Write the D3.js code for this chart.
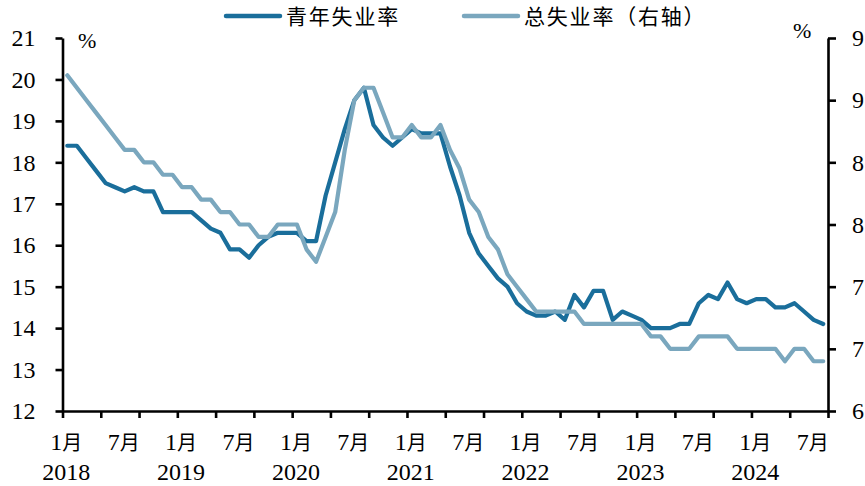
<!DOCTYPE html>
<html><head><meta charset="utf-8">
<script src="https://cdn.jsdelivr.net/npm/d3@7"></script>
<style>
html,body{margin:0;padding:0;background:#fff;}
svg{display:block;}
</style>
</head><body>
<svg id="chart" width="865" height="486"></svg>
<script>
// ---- data ----
const years = ["2018","2019","2020","2021","2022","2023","2024"];
const monthLabels = ["1月","7月"];
const leftTicks = [12,13,14,15,16,17,18,19,20,21];
const rightTicks = [6,6.5,7,7.5,8,8.5,9];
const rightTickLabels = ["6","7","7","8","8","9","9"];
const seriesNames = ["青年失业率","总失业率（右轴）"];
const youth = [
 18.4,18.4,18.1,17.8,17.5,17.4,17.3,17.4,17.3,17.3,16.8,16.8,
 16.8,16.8,16.6,16.4,16.3,15.9,15.9,15.7,16.0,16.2,16.3,16.3,
 16.3,16.1,16.1,17.2,18.0,18.8,19.5,19.8,18.9,18.6,18.4,18.6,
 18.8,18.7,18.7,18.7,17.9,17.2,16.3,15.8,15.5,15.2,15.0,14.6,
 14.4,14.3,14.3,14.4,14.2,14.8,14.5,14.9,14.9,14.2,14.4,14.3,
 14.2,14.0,14.0,14.0,14.1,14.1,14.6,14.8,14.7,15.1,14.7,14.6,
 14.7,14.7,14.5,14.5,14.6,14.4,14.2,14.1];
const total = [
 8.7,8.6,8.5,8.4,8.3,8.2,8.1,8.1,8.0,8.0,7.9,7.9,
 7.8,7.8,7.7,7.7,7.6,7.6,7.5,7.5,7.4,7.4,7.5,7.5,
 7.5,7.3,7.2,7.4,7.6,8.1,8.5,8.6,8.6,8.4,8.2,8.2,
 8.3,8.2,8.2,8.3,8.1,7.95,7.7,7.6,7.4,7.3,7.1,7.0,
 6.9,6.8,6.8,6.8,6.8,6.8,6.7,6.7,6.7,6.7,6.7,6.7,
 6.7,6.6,6.6,6.5,6.5,6.5,6.6,6.6,6.6,6.6,6.5,6.5,
 6.5,6.5,6.5,6.4,6.5,6.5,6.4,6.4];
// categories: months Jan 2018 .. Aug 2024
const categories = [];
years.forEach(y => { for (let m = 1; m <= 12; m++) categories.push(y + "-" + m); });
categories.length = youth.length;

// ---- layout ----
const colDark = "#1A6E9B", colLight = "#7AA7BE";
const L = 62.5, R = 828, T = 38, B = 411;
const svg = d3.select("#chart");
const numFont = "'Liberation Serif', 'Noto Sans CJK SC', serif";
const cjkFont = "'Noto Sans CJK SC', sans-serif";

const x = d3.scaleBand().domain(categories).range([L, R]).padding(0);
const xTick = d3.scaleLinear().domain([0, categories.length]).range([L, R]);
const yL = d3.scaleLinear().domain([12, 21]).range([B, T]);
const yR = d3.scaleLinear().domain([6, 9]).range([B, T]);

// lines
const lineL = d3.line().x((d, i) => x(categories[i]) + x.bandwidth() / 2).y(d => yL(d));
const lineR = d3.line().x((d, i) => x(categories[i]) + x.bandwidth() / 2).y(d => yR(d));
svg.append("path").datum(youth).attr("d", lineL).attr("fill", "none")
  .attr("stroke", colDark).attr("stroke-width", 4.2).attr("stroke-linejoin", "round").attr("stroke-linecap", "round");
svg.append("path").datum(total).attr("d", lineR).attr("fill", "none")
  .attr("stroke", colLight).attr("stroke-width", 4.2).attr("stroke-linejoin", "round").attr("stroke-linecap", "round");

// axes
function styleAxis(g) {
  g.selectAll(".domain").attr("stroke", "#000").attr("stroke-width", 2.6);
  g.selectAll(".tick line").attr("stroke", "#000").attr("stroke-width", 2.6);
}
const axL = svg.append("g").attr("transform", `translate(${L},0)`)
  .call(d3.axisLeft(yL).tickValues(leftTicks).tickSize(7).tickSizeOuter(0).tickPadding(20).tickFormat(d3.format("d")));
styleAxis(axL);
axL.selectAll(".tick text").attr("font-family", numFont).attr("font-size", 24).attr("fill", "#000");

const axR = svg.append("g").attr("transform", `translate(${R},0)`)
  .call(d3.axisRight(yR).tickValues(rightTicks).tickSize(8).tickSizeOuter(0).tickPadding(16)
    .tickFormat((d, i) => rightTickLabels[i]));
styleAxis(axR);
axR.selectAll(".tick text").attr("font-family", numFont).attr("font-size", 24).attr("fill", "#000");

const tickIdx = d3.range(0, categories.length + 1, 4);
const axB = svg.append("g").attr("transform", `translate(0,${B})`)
  .call(d3.axisBottom(xTick).tickValues(tickIdx).tickSize(7).tickSizeOuter(0).tickFormat(""));
styleAxis(axB);

// x labels
const labIdx = d3.range(0, categories.length, 6);
const lab = svg.append("g");
labIdx.forEach(i => {
  const cx = x(categories[i]) + x.bandwidth() / 2 - 1;
  const m = monthLabels[(i / 6) % 2];
  const t = lab.append("text").attr("x", cx).attr("y", 450).attr("text-anchor", "middle").attr("fill", "#000");
  t.append("tspan").attr("font-family", numFont).attr("font-size", 24).text(m.slice(0, -1));
  t.append("tspan").attr("font-family", cjkFont).attr("font-size", 20).text(m.slice(-1));
  if (i % 12 === 0) {
    lab.append("text").attr("x", cx).attr("y", 480).attr("text-anchor", "middle")
      .attr("font-family", numFont).attr("font-size", 24).attr("fill", "#000").text(years[i / 12]);
  }
});

// % units
svg.append("text").attr("x", 78).attr("y", 48).attr("font-family", numFont).attr("font-size", 22).text("%");
svg.append("text").attr("x", 793).attr("y", 38).attr("font-family", numFont).attr("font-size", 22).text("%");

// legend
const leg = [
  {name: seriesNames[0], color: colDark, x1: 226, x2: 280, tx: 286},
  {name: seriesNames[1], color: colLight, x1: 464, x2: 518, tx: 524}
];
leg.forEach(d => {
  svg.append("line").attr("x1", d.x1).attr("x2", d.x2).attr("y1", 16).attr("y2", 16)
    .attr("stroke", d.color).attr("stroke-width", 4.5).attr("stroke-linecap", "round");
  svg.append("text").attr("x", d.tx).attr("y", 24).attr("font-family", cjkFont).attr("font-size", 21)
    .attr("letter-spacing", 1.8).attr("fill", "#000").text(d.name);
});
</script>
</body></html>
